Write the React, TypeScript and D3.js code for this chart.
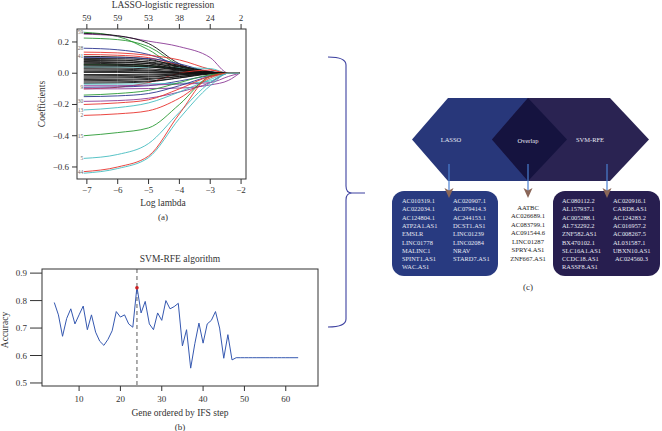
import React from 'react';
import * as d3 from 'd3';

const W = 662;
const H = 431;
const serif = '"Liberation Serif", "DejaVu Serif", serif';

// ---------- panel (a): LASSO coefficient paths ----------
const lassoGrid = [-7.1, -6, -5, -4, -3, -2.4, -2.05];
const lassoXTicks = [-7, -6, -5, -4, -3, -2];
const lassoXLabels = ['\u22127', '\u22126', '\u22125', '\u22124', '\u22123', '\u22122'];
const lassoTopLabels = ['59', '59', '53', '38', '24', '2'];
const lassoYTicks = [-0.6, -0.4, -0.2, 0, 0.2];
const lassoYLabels = ['\u22120.6', '\u22120.4', '\u22120.2', '0.0', '0.2'];

const K = '#111111';
const R = '#e8322c';
const G = '#2a9a34';
const B = '#2c3590';
const C = '#45bcc0';
const P = '#8b3a96';

const pathColors = [
  G, P, K, G, B, R, R, K, B, G, C, K, K, K, K, K, K, K, K, K, K, K, K, K,
  R, K, K, K, K, K, K, K, K, K, B, P, C, P, G, B, P, R, C, R, G, C, R, C,
];
const pathLabels = [
  '59', '', '', '', '28', '', '', '41', '', '', '', '', '', '', '', '', '', '', '', '', '', '', '', '',
  '', '', '', '', '', '', '', '', '', '', '9', '', '', '', '', '', '30', '', '13', '2', '15', '5', '44', '',
];
const pathValues = [
  [0.262, 0.235, 0.15, 0.03, 0, 0, 0],
  [0.25, 0.238, 0.205, 0.17, 0.1, 0, 0],
  [0.255, 0.24, 0.19, 0.06, 0, 0, 0],
  [0.225, 0.215, 0.17, 0.05, 0, 0, 0],
  [0.16, 0.15, 0.12, 0.05, 0, 0, 0],
  [0.135, 0.13, 0.115, 0.085, 0.025, 0, 0],
  [0.12, 0.115, 0.1, 0.05, 0.005, 0, 0],
  [0.108, 0.104, 0.09, 0.04, 0, 0, 0],
  [0.1, 0.099, 0.094, 0.06, 0.01, 0, 0],
  [0.055, 0.054, 0.048, 0.03, 0.005, 0, 0],
  [0.04, 0.04, 0.038, 0.035, 0.03, 0, 0],
  [0.095, 0.093, 0.082, 0.05, 0.008, 0, 0],
  [0.088, 0.085, 0.07, 0.03, 0, 0, 0],
  [0.082, 0.08, 0.072, 0.045, 0.01, 0, 0],
  [0.075, 0.072, 0.06, 0.025, 0, 0, 0],
  [0.07, 0.068, 0.062, 0.04, 0.006, 0, 0],
  [0.064, 0.06, 0.05, 0.02, 0, 0, 0],
  [0.058, 0.057, 0.05, 0.03, 0.004, 0, 0],
  [0.052, 0.05, 0.042, 0.018, 0, 0, 0],
  [0.046, 0.045, 0.04, 0.025, 0.003, 0, 0],
  [0.034, 0.033, 0.028, 0.015, 0.002, 0, 0],
  [0.028, 0.026, 0.02, 0.008, 0, 0, 0],
  [0.02, 0.019, 0.015, 0.006, 0, 0, 0],
  [0.012, 0.011, 0.008, 0.003, 0, 0, 0],
  [-0.1, -0.09, -0.06, 0.0, 0.02, 0, 0],
  [0.005, 0.005, 0.004, 0.002, 0, 0, 0],
  [-0.008, -0.008, -0.006, -0.003, 0, 0, 0],
  [-0.016, -0.015, -0.012, -0.005, 0, 0, 0],
  [-0.024, -0.023, -0.02, -0.01, -0.001, 0, 0],
  [-0.032, -0.03, -0.025, -0.012, 0, 0, 0],
  [-0.04, -0.039, -0.034, -0.02, -0.003, 0, 0],
  [-0.048, -0.046, -0.04, -0.022, 0, 0, 0],
  [-0.056, -0.055, -0.05, -0.03, -0.005, 0, 0],
  [-0.064, -0.062, -0.055, -0.03, -0.002, 0, 0],
  [-0.09, -0.088, -0.08, -0.05, -0.015, 0, 0],
  [-0.1, -0.1, -0.098, -0.095, -0.075, -0.045, 0],
  [-0.07, -0.07, -0.068, -0.065, -0.05, 0, 0],
  [-0.08, -0.08, -0.076, -0.07, -0.06, -0.02, 0],
  [-0.14, -0.13, -0.11, -0.06, -0.01, 0, 0],
  [-0.15, -0.145, -0.13, -0.08, -0.02, 0, 0],
  [-0.18, -0.175, -0.16, -0.12, -0.06, 0, 0],
  [-0.2, -0.19, -0.17, -0.1, -0.02, 0, 0],
  [-0.235, -0.22, -0.19, -0.12, -0.04, 0, 0],
  [-0.27, -0.26, -0.24, -0.16, -0.03, 0, 0],
  [-0.4, -0.38, -0.35, -0.2, -0.02, 0, 0],
  [-0.545, -0.52, -0.45, -0.25, -0.06, 0, 0],
  [-0.63, -0.6, -0.53, -0.26, -0.02, 0, 0],
  [-0.64, -0.61, -0.54, -0.29, -0.08, 0, 0],
];

// ---------- panel (b): SVM-RFE accuracy ----------
const ifsSteps = d3.range(4, 64);
const ifsAccuracy = [
  0.793, 0.748, 0.67, 0.735, 0.77, 0.715, 0.748, 0.78, 0.694, 0.748,
  0.685, 0.652, 0.637, 0.659, 0.69, 0.76, 0.74, 0.748, 0.715, 0.703,
  0.85, 0.755, 0.797, 0.715, 0.694, 0.755, 0.728, 0.8, 0.77, 0.778,
  0.79, 0.635, 0.694, 0.554, 0.643, 0.718, 0.645, 0.715, 0.728, 0.76,
  0.7, 0.59, 0.676, 0.584, 0.592, 0.592, 0.592, 0.592, 0.592, 0.592,
  0.592, 0.592, 0.592, 0.592, 0.592, 0.592, 0.592, 0.592, 0.592, 0.592,
];
const bestStep = 24;
const svmXTicks = [10, 20, 30, 40, 50, 60];
const svmYTicks = [0.5, 0.6, 0.7, 0.8, 0.9];

// ---------- panel (c): gene sets ----------
const lassoCol1 = ['AC010319.1', 'AC022034.1', 'AC124804.1', 'ATP2A1.AS1', 'EMSLR', 'LINC01778', 'MALINC1', 'SPINT1.AS1', 'WAC.AS1'];
const lassoCol2 = ['AC020907.1', 'AC079414.3', 'AC244153.1', 'DCST1.AS1', 'LINC01239', 'LINC02084', 'NRAV', 'STARD7.AS1'];
const overlapGenes = ['AATBC', 'AC026689.1', 'AC083799.1', 'AC091544.6', 'LINC01287', 'SPRY4.AS1', 'ZNF667.AS1'];
const svmCol1 = ['AC080112.2', 'AL157937.1', 'AC005288.1', 'AL732292.2', 'ZNF582.AS1', 'BX470102.1', 'SLC16A1.AS1', 'CCDC18.AS1', 'RASSF8.AS1'];
const svmCol2 = ['AC020916.1', 'CARD8.AS1', 'AC124283.2', 'AC016957.2', 'AC008267.5', 'AL031587.1', 'UBXN10.AS1', 'AC024560.3'];

function LassoPanel() {
  const x = d3.scaleLinear().domain([-7.32, -1.84]).range([77, 246]);
  const y = d3.scaleLinear().domain([-0.677, 0.283]).range([179, 29]);
  const line = d3.line<number>()
    .x((_, i) => x(lassoGrid[i]))
    .y((d) => y(d))
    .curve(d3.curveMonotoneX);
  return (
    <g fontFamily={serif}>
      <text x={163} y={8} fontSize={9.5} textAnchor="middle" fill="#333">LASSO-logistic regression</text>
      {pathValues.map((v, i) => (
        <path key={i} d={line(v) || ''} fill="none" stroke={pathColors[i]} strokeWidth={0.9} />
      ))}
      {pathValues.map((v, i) => pathLabels[i] ? (
        <text key={'l' + i} x={x(lassoGrid[0]) - 0.5} y={y(v[0]) + 2} fontSize={5.5} textAnchor="end" fill="#666">{pathLabels[i]}</text>
      ) : null)}
      <rect x={77} y={29} width={169} height={150} fill="none" stroke="#333" strokeWidth={1} />
      {lassoXTicks.map((t, i) => (
        <g key={t}>
          <line x1={x(t)} x2={x(t)} y1={179} y2={184} stroke="#333" />
          <text x={x(t)} y={193} fontSize={9} textAnchor="middle" fill="#333">{lassoXLabels[i]}</text>
          <line x1={x(t)} x2={x(t)} y1={29} y2={24} stroke="#333" />
          <text x={x(t)} y={21} fontSize={9} textAnchor="middle" fill="#333">{lassoTopLabels[i]}</text>
        </g>
      ))}
      {lassoYTicks.map((t, i) => (
        <g key={t}>
          <line x1={72} x2={77} y1={y(t)} y2={y(t)} stroke="#333" />
          <text x={69} y={y(t) + 3} fontSize={9} textAnchor="end" fill="#333">{lassoYLabels[i]}</text>
        </g>
      ))}
      <text transform="translate(45,104) rotate(-90)" fontSize={9.5} textAnchor="middle" fill="#333">Coefficients</text>
      <text x={163} y={206} fontSize={9.5} textAnchor="middle" fill="#333">Log lambda</text>
      <text x={163} y={220} fontSize={9} textAnchor="middle" fill="#333">(a)</text>
    </g>
  );
}

function SvmPanel() {
  const x = d3.scaleLinear().domain([1.03, 67.8]).range([42, 318]);
  const y = d3.scaleLinear().domain([0.489, 0.915]).range([386, 269]);
  const line = d3.line<number>()
    .x((_, i) => x(ifsSteps[i]))
    .y((d) => y(d));
  const bi = ifsSteps.indexOf(bestStep);
  return (
    <g fontFamily={serif}>
      <text x={180} y={262} fontSize={9.5} textAnchor="middle" fill="#333">SVM-RFE algorithm</text>
      <line x1={x(bestStep)} x2={x(bestStep)} y1={269} y2={386} stroke="#777" strokeWidth={1.2} strokeDasharray="4,3" />
      <path d={line(ifsAccuracy) || ''} fill="none" stroke="#3558b0" strokeWidth={1} />
      <circle cx={x(bestStep)} cy={y(ifsAccuracy[bi]) + 1} r={1.8} fill="#d02020" />
      <rect x={42} y={269} width={276} height={117} fill="none" stroke="#333" strokeWidth={1} />
      {svmYTicks.map((t) => (
        <g key={t}>
          <line x1={30} x2={42} y1={y(t)} y2={y(t)} stroke="#333" />
          <text x={27} y={y(t) + 3} fontSize={9} textAnchor="end" fill="#333">{t.toFixed(1)}</text>
        </g>
      ))}
      {svmXTicks.map((t) => (
        <g key={t}>
          <line x1={x(t)} x2={x(t)} y1={386} y2={391} stroke="#333" />
          <text x={x(t)} y={402} fontSize={9} textAnchor="middle" fill="#333">{t}</text>
        </g>
      ))}
      <text transform="translate(8,330) rotate(-90)" fontSize={9.5} textAnchor="middle" fill="#333">Accuracy</text>
      <text x={180} y={416} fontSize={9.5} textAnchor="middle" fill="#333">Gene ordered by IFS step</text>
      <text x={180} y={430} fontSize={9} textAnchor="middle" fill="#333">(b)</text>
    </g>
  );
}

function Arrow({ cx }: { cx: number }) {
  return (
    <g>
      <line x1={cx} x2={cx} y1={164} y2={193} stroke="#4a7fd0" strokeWidth={1.2} />
      <polygon points={`${cx - 4.5},${188} ${cx},${190.5} ${cx + 4.5},${188} ${cx},${198}`} fill="#8a6658" />
    </g>
  );
}

function VennPanel() {
  const rowY = d3.scaleLinear().domain([0, 1]).range([203, 211.3]);
  const midY = d3.scaleLinear().domain([0, 1]).range([209.5, 218]);
  const light = '#e6e8f2';
  return (
    <g fontFamily={serif}>
      <path d="M328,57 Q346,57 346,65 L346,186 Q346,193 352,193 L365,193 L352,193 Q346,193 346,200 L346,319 Q346,327 328,327"
        fill="none" stroke="#3d41a0" strokeWidth={1.1} />
      <polygon points="448,98 528,98 567,139.5 528,181 448,181 412,139.5" fill="#28377a" />
      <polygon points="528,98 610,98 649,139.5 610,181 528,181 492,139.5" fill="#2a2352" />
      <polygon points="528,98 567,139.5 528,181 492,139.5" fill="#15133f" />
      <text x={451} y={142} fontSize={6.5} textAnchor="middle" fill={light}>LASSO</text>
      <text x={528} y={142.5} fontSize={6.5} textAnchor="middle" fill={light}>Overlap</text>
      <text x={590} y={142} fontSize={6.5} textAnchor="middle" fill={light}>SVM-RFE</text>
      <rect x={392} y={191} width={106} height={85} rx={12} fill="#283a80" />
      <rect x={553} y={191} width={107} height={85} rx={12} fill="#271e4f" />
      <Arrow cx={449} />
      <Arrow cx={528} />
      <Arrow cx={607} />
      {lassoCol1.map((g, i) => <text key={g} x={402} y={rowY(i)} fontSize={6.4} fill={light}>{g}</text>)}
      {lassoCol2.map((g, i) => <text key={g} x={453} y={rowY(i)} fontSize={6.4} fill={light}>{g}</text>)}
      {overlapGenes.map((g, i) => <text key={g} x={528} y={midY(i)} fontSize={6.6} textAnchor="middle" fill="#222">{g}</text>)}
      {svmCol1.map((g, i) => <text key={g} x={562} y={rowY(i)} fontSize={6.4} fill={light}>{g}</text>)}
      {svmCol2.map((g, i) => <text key={g} x={i === 7 ? 615 : 613} y={rowY(i)} fontSize={6.4} fill={light}>{g}</text>)}
      <text x={528} y={290} fontSize={9} textAnchor="middle" fill="#333">(c)</text>
    </g>
  );
}

export default function App() {
  return (
    <svg width={W} height={H} style={{ position: 'absolute', left: 0, top: 0, background: '#fff' }}>
      <rect width={W} height={H} fill="#fff" />
      <LassoPanel />
      <SvmPanel />
      <VennPanel />
    </svg>
  );
}
